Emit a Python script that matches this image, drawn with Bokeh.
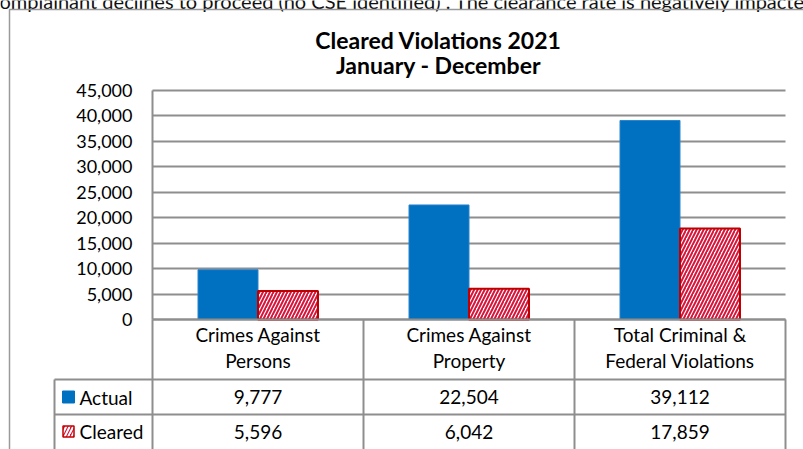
import numpy as np
from bokeh.plotting import figure
from bokeh.models import (Range1d, LinearAxis, SingleIntervalTicker, NumeralTickFormatter, Grid)
from bokeh.core.properties import value
from bokeh.embed import file_html
from bokeh.resources import INLINE

# ---------------- data ----------------
categories = ["Crimes Against\nPersons", "Crimes Against\nProperty", "Total Criminal &\nFederal Violations"]
series_names = ["Actual", "Cleared"]
actual = [9777, 22504, 39112]
cleared = [5596, 6042, 17859]
title_lines = ["Cleared Violations 2021", "January - December"]
y_max = 45000
y_step = 5000
context_text = "omplainant declines to proceed (no CSE identified)\u201d. The clearance rate is negatively impacted"

# ---------------- layout / style ----------------
W, H = 803, 449
PLOT_L, PLOT_R = 152, 785
PLOT_T, PLOT_B = 90, 319
ROW1, ROW2 = 379, 414
LEG_L = 54
CAT_W = (PLOT_R - PLOT_L) / len(categories)
V_PER_PX = y_max / (PLOT_B - PLOT_T)

FONT = "Lato"
BLUE = "#0070C0"
RED = "#D9143A"
RED_DARK = "#C00000"
GRID = "#8e8e8e"
FS = "19px"


def X(px):
    return (px - PLOT_L) / CAT_W


def Y(py):
    return (PLOT_B - py) * V_PER_PX


p = figure(width=W, height=H, x_range=Range1d(X(0), X(W)), y_range=Range1d(Y(H), Y(0)),
           x_axis_type=None, y_axis_type=None, toolbar_location=None, output_backend="svg",
           min_border=0, title=None, margin=(0, 0, 0, 0))
p.outline_line_color = None
p.background_fill_color = "white"
p.border_fill_color = "white"

n = len(categories)
idx = np.arange(n)

yaxis = LinearAxis(fixed_location=0, bounds=(0, y_max),
                   ticker=SingleIntervalTicker(interval=y_step, num_minor_ticks=0),
                   formatter=NumeralTickFormatter(format="0,0"),
                   axis_line_color=GRID, axis_line_width=2,
                   major_tick_in=0, major_tick_out=0, minor_tick_in=0, minor_tick_out=0,
                   major_label_standoff=20, major_label_text_font=FONT,
                   major_label_text_font_size="18px", major_label_text_color="black")
p.add_layout(yaxis, "left")

grid = Grid(dimension=1, ticker=yaxis.ticker, bounds=(0, y_max),
            grid_line_color=GRID, grid_line_width=2)
if "cross_bounds" in Grid.properties():
    grid.cross_bounds = (0, n)
else:
    yaxis.major_tick_in = PLOT_R - PLOT_L
    yaxis.major_tick_line_color = GRID
    yaxis.major_tick_line_width = 2
p.add_layout(grid, "center")

# bars
bw = 60 / CAT_W
p.vbar(x=idx + 0.5 - bw / 2, top=actual, bottom=0, width=bw,
       fill_color=BLUE, line_color="#2a83cc", line_width=1)
p.vbar(x=idx + 0.5 + bw / 2, top=cleared, bottom=0, width=bw,
       fill_color="white", line_color=RED_DARK, line_width=2,
       hatch_pattern="/", hatch_color=RED, hatch_scale=7, hatch_weight=2)

# data table lines
hx0 = [0, X(LEG_L), X(LEG_L)]
hx1 = [n, n, n]
hy = [0, Y(ROW1), Y(ROW2)]
p.segment(x0=hx0, y0=hy, x1=hx1, y1=hy, line_color=GRID, line_width=2)
vx = list(idx) + [n, X(LEG_L)]
vy0 = [0] * (n + 1) + [Y(ROW1)]
p.segment(x0=vx, y0=vy0, x1=vx, y1=[Y(H + 5)] * (n + 2), line_color=GRID, line_width=2)

# table texts
txt = dict(text_font=value(FONT), text_font_size=FS, text_color="black")
p.text(x=idx + 0.5, y=Y(347), text=categories, text_align="center",
       text_baseline="middle", text_line_height=1.1, **txt)
p.text(x=idx + 0.5, y=Y((ROW1 + ROW2) / 2), text=[f"{v:,}" for v in actual],
       text_align="center", text_baseline="middle", **txt)
p.text(x=idx + 0.5, y=Y(ROW2 + 17), text=[f"{v:,}" for v in cleared],
       text_align="center", text_baseline="middle", **txt)

# legend keys in table
p.rect(x=X(68), y=Y((ROW1 + ROW2) / 2), width=12, height=12, width_units="screen",
       height_units="screen", fill_color=BLUE, line_color=BLUE)
p.rect(x=X(68), y=Y(ROW2 + 17), width=11, height=11, width_units="screen",
       height_units="screen", fill_color=RED, line_color=RED_DARK, line_width=1.5,
       hatch_pattern="/", hatch_color="white", hatch_scale=7, hatch_weight=2)
p.text(x=X(79), y=[Y((ROW1 + ROW2) / 2), Y(ROW2 + 17)], text=series_names,
       text_align="left", text_baseline="middle", **txt)

# title
p.text(x=X(438), y=[Y(39), Y(64)], text=title_lines, text_align="center",
       text_baseline="middle", text_font=value(FONT), text_font_size="23px",
       text_font_style="bold", text_color="black")

# surrounding document context (cut off at the top edge, as in the source page)
p.text(x=X(-1), y=Y(0), text=[context_text], text_align="left", text_baseline="middle",
       text_font=value(FONT), text_font_size="20px", text_color="#111111")
p.line(x=[X(9), X(9), X(W + 5)], y=[Y(H + 5), Y(9), Y(9)], line_color="#9a9a9a", line_width=1.5)

open("out.html", "w").write(file_html(p, INLINE))
